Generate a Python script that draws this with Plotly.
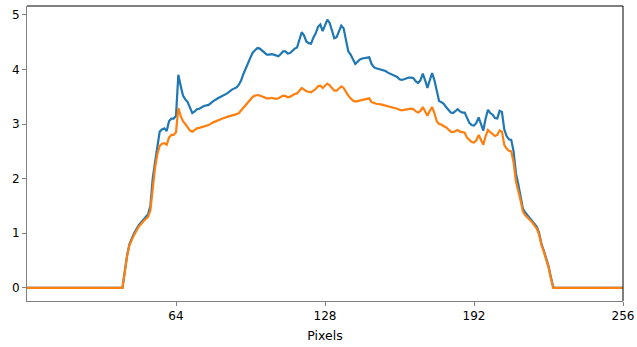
import plotly.graph_objects as go

x_pix = [0, 41, 43, 44, 46, 48, 50, 52, 53, 54, 55, 56, 57, 58, 59, 60, 61, 62, 63, 64, 65, 66, 67, 68, 69, 70,
         71, 72, 73, 74, 76, 78, 80, 82, 84, 86, 88, 90, 91, 92, 93, 94, 95, 96, 97, 98, 99, 100,
         101, 102, 103, 104, 105, 106, 107, 108, 109, 110, 111, 112, 113, 114, 115, 116, 117, 118, 119, 120,
         121, 122, 123, 124, 125, 126, 127, 128, 129, 130, 131, 132, 133, 134, 135, 136, 137, 138, 139, 140,
         141, 142, 143, 144, 145, 146, 147, 148, 149, 150, 152, 154, 155, 156, 157, 158, 159, 160,
         161, 162, 163, 164, 165, 166, 167, 168, 169, 170, 171, 172, 173, 174, 175, 176, 177, 178, 179, 180,
         181, 182, 183, 184, 185, 186, 187, 188, 189, 190, 191, 192, 193, 194, 195, 196, 197, 198, 199, 200,
         201, 202, 203, 204, 205, 206, 207, 208, 209, 210, 211, 212, 213, 214, 215, 216, 217, 218, 219, 220,
         221, 222, 223, 224, 225, 226, 227, 256]

blue_vals = [0, 0, 0.6, 0.8, 1.0, 1.15, 1.25, 1.35, 1.5, 2.0, 2.3, 2.55, 2.86, 2.9, 2.92, 2.87, 3.05, 3.1, 3.1, 3.15, 3.9, 3.7, 3.52, 3.45, 3.4, 3.3,
             3.2, 3.23, 3.27, 3.28, 3.33, 3.35, 3.42, 3.47, 3.52, 3.56, 3.63, 3.67, 3.72, 3.8, 3.92, 4.03, 4.13, 4.22, 4.31, 4.36, 4.39, 4.38,
             4.34, 4.30, 4.27, 4.27, 4.28, 4.27, 4.25, 4.24, 4.28, 4.33, 4.33, 4.29, 4.3, 4.35, 4.38, 4.40, 4.55, 4.68, 4.62, 4.51,
             4.48, 4.47, 4.58, 4.66, 4.78, 4.82, 4.70, 4.82, 4.91, 4.85, 4.72, 4.57, 4.59, 4.7, 4.80, 4.75, 4.5, 4.33, 4.27, 4.18,
             4.10, 4.14, 4.18, 4.2, 4.21, 4.21, 4.22, 4.1, 4.04, 4.02, 4.0, 3.97, 3.94, 3.92, 3.9, 3.88, 3.86, 3.82,
             3.81, 3.82, 3.84, 3.85, 3.85, 3.84, 3.78, 3.75, 3.8, 3.92, 3.8, 3.66, 3.8, 3.93, 3.8, 3.6, 3.42, 3.4, 3.37, 3.31,
             3.25, 3.21, 3.2, 3.24, 3.27, 3.23, 3.21, 3.21, 3.1, 3.02, 2.98, 2.97, 3.02, 3.12, 3.0, 2.88, 3.1, 3.26, 3.2, 3.17,
             3.11, 3.1, 3.24, 3.22, 2.9, 2.78, 2.72, 2.71, 2.5, 2.1, 1.9, 1.68, 1.45, 1.38, 1.33, 1.29, 1.24, 1.18, 1.12, 1.0,
             0.8, 0.68, 0.55, 0.4, 0.2, 0.02, 0, 0]

orange_vals = [0, 0, 0.58, 0.78, 0.97, 1.12, 1.22, 1.3, 1.42, 1.85, 2.2, 2.45, 2.6, 2.64, 2.65, 2.62, 2.75, 2.8, 2.8, 2.85, 3.29, 3.15, 3.05, 3.0, 2.95, 2.88,
               2.86, 2.89, 2.92, 2.93, 2.95, 2.98, 3.03, 3.07, 3.1, 3.13, 3.15, 3.18, 3.2, 3.25, 3.31, 3.37, 3.42, 3.47, 3.5, 3.52, 3.53, 3.52,
               3.5, 3.48, 3.47, 3.47, 3.48, 3.47, 3.46, 3.47, 3.5, 3.52, 3.51, 3.49, 3.5, 3.53, 3.55, 3.56, 3.62, 3.66, 3.63, 3.6,
               3.59, 3.58, 3.61, 3.64, 3.69, 3.70, 3.66, 3.7, 3.74, 3.71, 3.66, 3.61, 3.61, 3.65, 3.69, 3.66, 3.58, 3.52, 3.47, 3.43,
               3.41, 3.42, 3.44, 3.45, 3.46, 3.46, 3.47, 3.4, 3.38, 3.37, 3.36, 3.34, 3.32, 3.31, 3.3, 3.29, 3.28, 3.26,
               3.25, 3.26, 3.27, 3.28, 3.28, 3.27, 3.23, 3.21, 3.24, 3.31, 3.22, 3.15, 3.24, 3.31, 3.2, 3.05, 3.0, 2.99, 2.96, 2.94,
               2.9, 2.86, 2.85, 2.87, 2.89, 2.86, 2.85, 2.84, 2.75, 2.7, 2.67, 2.66, 2.7, 2.8, 2.7, 2.62, 2.78, 2.89, 2.85, 2.82,
               2.78, 2.8, 2.88, 2.86, 2.62, 2.55, 2.51, 2.5, 2.3, 1.95, 1.8, 1.6, 1.4, 1.33, 1.29, 1.25, 1.2, 1.14, 1.08, 0.97,
               0.78, 0.66, 0.53, 0.38, 0.18, 0.0, 0, 0]

x_ticks = [64, 128, 192, 256]
y_ticks = [0, 1, 2, 3, 4, 5]
x_label = "Pixels"

fig = go.Figure()
fig.add_trace(go.Scatter(x=x_pix, y=blue_vals, mode="lines",
                         line=dict(color="#1f77b4", width=2.2), showlegend=False))
fig.add_trace(go.Scatter(x=x_pix, y=orange_vals, mode="lines",
                         line=dict(color="#ff7f0e", width=2.2), showlegend=False))

tick_font = dict(family="DejaVu Sans", size=12, color="black")
title_font = dict(family="DejaVu Sans", size=12.5, color="black")
fig.update_layout(
    width=637, height=347,
    margin=dict(l=27, r=14, t=6, b=46),
    paper_bgcolor="white", plot_bgcolor="white",
    font=tick_font,
    xaxis=dict(range=[0, 256], tickvals=x_ticks, ticktext=[str(t) for t in x_ticks],
               showgrid=False, zeroline=False, showline=True, linecolor="#808080", linewidth=1,
               ticks="outside", ticklen=4, tickcolor="#808080", automargin=False,
               tickfont=tick_font,
               title=dict(text=x_label, font=title_font, standoff=8)),
    yaxis=dict(range=[-0.24, 5.16], tickvals=y_ticks, ticktext=[str(t) for t in y_ticks],
               showgrid=False, zeroline=False, showline=True, linecolor="#808080", linewidth=1,
               ticks="outside", ticklen=4, tickcolor="#808080", automargin=False,
               tickfont=tick_font),
    shapes=[
        dict(type="line", xref="paper", yref="paper", x0=0, x1=1, y0=1, y1=1,
             line=dict(color="black", width=1)),
        dict(type="line", xref="paper", yref="paper", x0=1, x1=1, y0=0, y1=1,
             line=dict(color="black", width=1)),
    ],
)
fig.write_html("out.html")
